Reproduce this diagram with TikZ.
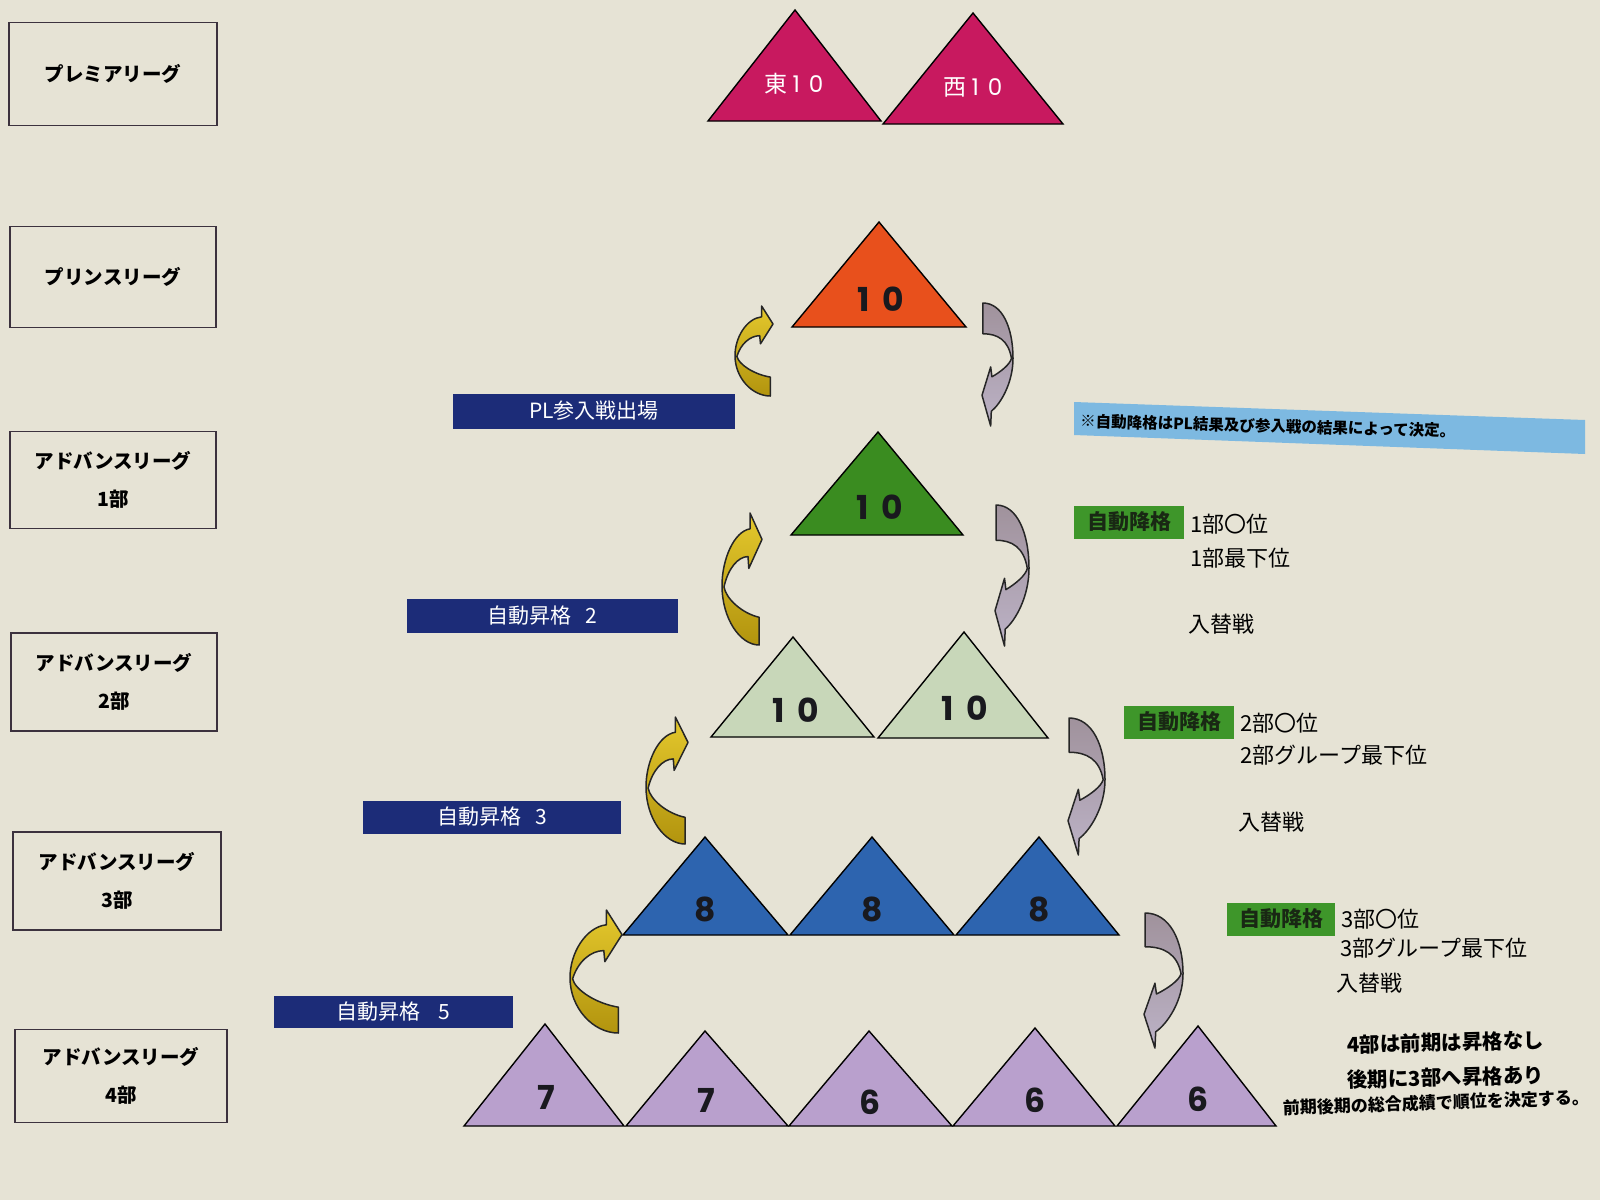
\documentclass[tikz,border=0pt]{standalone}
\usepackage{fontspec}
\setmainfont{Noto Sans CJK JP}
\newfontfamily\numfont{Poppins}
\definecolor{paper}{RGB}{230,227,213}
\definecolor{boxline}{RGB}{60,50,62}
\definecolor{navy}{RGB}{28,44,120}
\definecolor{dgreen}{RGB}{62,150,42}
\definecolor{skyblue}{RGB}{125,185,225}
\definecolor{plred}{RGB}{200,25,95}
\definecolor{prorange}{RGB}{232,80,28}
\definecolor{aone}{RGB}{58,140,32}
\definecolor{atwo}{RGB}{200,215,185}
\definecolor{athree}{RGB}{45,100,175}
\definecolor{afour}{RGB}{185,160,205}
\tikzset{
  lvlbox/.style={draw=boxline, line width=1.6pt, align=center, inner sep=0pt,
    font=\bfseries\fontsize{19.5}{38}\selectfont},
  barbox/.style={fill=navy, text=white, inner sep=0pt,
    font=\fontsize{21}{21}\selectfont},
  dropbox/.style={fill=dgreen, text={rgb,255:red,25;green,40;blue,20}, inner sep=0pt,
    minimum width=110pt, minimum height=33pt, font=\bfseries\fontsize{21}{21}\selectfont},
  rtext/.style={anchor=west, inner sep=0pt, font=\fontsize{22}{22}\selectfont},
  tri/.style={draw=black, line width=1.4pt, line join=miter},
  num/.style={inner sep=0pt, text={rgb,255:red,25;green,25;blue,30}, font=\numfont\bfseries\fontsize{33}{33}\selectfont},
  promo/.style={draw=black!85, line width=1.5pt, line join=round,
    top color={rgb,255:red,228;green,200;blue,45}, bottom color={rgb,255:red,178;green,148;blue,14}},
  demote/.style={draw=black!85, line width=1.5pt, line join=round,
    top color={rgb,255:red,160;green,146;blue,156}, bottom color={rgb,255:red,188;green,178;blue,198}}
}
% curved arrows: x, y (top left), width, height
\newcommand{\promoarrow}[4]{%
  \begin{scope}[shift={(#1,#2)}, xscale=#3, yscale=#4]
    \draw[promo] (0.93,1) -- (0.93,0.79) .. controls (0.5,0.76) and (0.1,0.65) .. (0.05,0.56)
      .. controls (0.15,0.42) and (0.4,0.33) .. (0.65,0.33) -- (0.67,0.42) -- (1,0.2) -- (0.7,0)
      -- (0.7,0.12) .. controls (0.3,0.14) and (0,0.35) .. (0,0.55)
      .. controls (0,0.8) and (0.45,1) .. (0.93,1) -- cycle;
  \end{scope}}
\newcommand{\demoarrow}[4]{%
  \begin{scope}[shift={(#1,#2)}, xscale=#3, yscale=#4]
    \draw[demote] (0.03,0) .. controls (0.65,0) and (1,0.2) .. (1,0.45)
      .. controls (1,0.65) and (0.6,0.82) .. (0.3,0.88) -- (0.28,1) -- (0,0.75) -- (0.28,0.52)
      -- (0.32,0.6) .. controls (0.6,0.56) and (0.9,0.5) .. (0.95,0.45)
      .. controls (0.85,0.3) and (0.5,0.25) .. (0.03,0.25) -- cycle;
  \end{scope}}
\begin{document}
\begin{tikzpicture}[x=1pt, y=-1pt]
  \useasboundingbox (0,0) rectangle (1600,1200);
  \fill[paper] (0,0) rectangle (1600,1200);

  % level boxes
  \node[lvlbox, minimum width=208pt, minimum height=103pt] (lpl) at (113,74) {プレミアリーグ};
  \node[lvlbox, minimum width=206pt, minimum height=101pt] (lpr) at (113,277) {プリンスリーグ};
  \node[lvlbox, minimum width=206pt, minimum height=97pt] (la1) at (113,480) {アドバンスリーグ\\1部};
  \node[lvlbox, minimum width=206pt, minimum height=98pt] (la2) at (114,682) {アドバンスリーグ\\2部};
  \node[lvlbox, minimum width=208pt, minimum height=98pt] (la3) at (117,881) {アドバンスリーグ\\3部};
  \node[lvlbox, minimum width=212pt, minimum height=93pt] (la4) at (121,1076) {アドバンスリーグ\\4部};

  % triangles: apex x/apex y/left/right/base y/colour
  \foreach \ax/\ay/\lx/\rx/\by/\col in {
      795/10/708/881/121/plred, 973/13/883/1063/124/plred,
      879/222/792/966/327/prorange,
      878/432/791/963/535/aone,
      793/637/711/874/737/atwo, 964/632/878/1048/738/atwo,
      705/837/623/788/935/athree, 872/837/790/954/935/athree, 1039/837/956/1119/935/athree,
      545/1024/464/624/1126/afour, 705/1031/626/788/1126/afour, 869/1031/789/952/1126/afour,
      1035/1028/953/1115/1126/afour, 1198/1026/1117/1276/1126/afour}
    \draw[tri, fill=\col] (\lx,\by) -- (\ax,\ay) -- (\rx,\by) -- cycle;

  % numbers
  \node[inner sep=0pt, text=white, font=\fontsize{23}{23}\selectfont] (npe) at (794,84)
    {東\hspace{5pt}{\numfont 1\hspace{9pt}0}};
  \node[inner sep=0pt, text=white, font=\fontsize{23}{23}\selectfont] (npw) at (973,87)
    {西\hspace{5pt}{\numfont 1\hspace{9pt}0}};
  \node[num] (npr) at (881,299) {1\hspace{13pt}0};
  \node[num] (na1) at (880,507) {1\hspace{13pt}0};
  \node[num] (na2l) at (796,710) {1\hspace{13pt}0};
  \node[num] (na2r) at (965,708) {1\hspace{13pt}0};
  \node[num] (na3a) at (705,909) {8};
  \node[num] (na3b) at (872,909) {8};
  \node[num] (na3c) at (1039,909) {8};
  \node[num] (na4a) at (546,1097) {7};
  \node[num] (na4b) at (706,1100) {7};
  \node[num] (na4c) at (870,1102) {6};
  \node[num] (na4d) at (1035,1100) {6};
  \node[num] (na4e) at (1198,1099) {6};

  % promotion bars
  \node[barbox, minimum width=282pt, minimum height=35pt] (bpl) at (594,411) {PL参入戦出場};
  \node[barbox, minimum width=271pt, minimum height=34pt] (bup2) at (542,616) {自動昇格\hspace{14pt}2};
  \node[barbox, minimum width=258pt, minimum height=33pt] (bup3) at (492,817) {自動昇格\hspace{14pt}3};
  \node[barbox, minimum width=239pt, minimum height=32pt] (bup5) at (393,1012) {自動昇格\hspace{18pt}5};

  % curved arrows
  \promoarrow{735}{306}{38}{90}
  \promoarrow{722}{513}{40}{132}
  \promoarrow{646}{717}{42}{127}
  \promoarrow{570}{910}{52}{123}
  \demoarrow{982}{303}{31}{123}
  \demoarrow{995}{505}{34}{141}
  \demoarrow{1068}{718}{37}{137}
  \demoarrow{1144}{913}{39}{135}

  % note
  \fill[skyblue] (1074,402) -- (1585,420) -- (1585,454) -- (1074,435) -- cycle;
  \node[anchor=west, inner sep=0pt, rotate=-1.5, font=\bfseries\fontsize{15.5}{15.5}\selectfont] (note) at (1080,421)
    {※自動降格はPL結果及び参入戦の結果によって決定。};

  % relegation
  \node[dropbox] (d1) at (1129,522) {自動降格};
  \node[rtext] (t11) at (1190,524) {1部〇位};
  \node[rtext] (t12) at (1190,558) {1部最下位};
  \node[rtext] (t13) at (1188,624) {入替戦};
  \node[dropbox] (d2) at (1179,722) {自動降格};
  \node[rtext] (t21) at (1240,723) {2部〇位};
  \node[rtext] (t22) at (1240,755) {2部グループ最下位};
  \node[rtext] (t23) at (1238,822) {入替戦};
  \node[dropbox, minimum width=108pt] (d3) at (1281,919) {自動降格};
  \node[rtext] (t31) at (1341,919) {3部〇位};
  \node[rtext] (t32) at (1340,948) {3部グループ最下位};
  \node[rtext] (t33) at (1336,983) {入替戦};

  % 4th division
  \node[rtext, rotate=1.5, font=\bfseries\fontsize{20.5}{20.5}\selectfont] (b1) at (1347,1045) {4部は前期は昇格なし};
  \node[rtext, rotate=1.5, font=\bfseries\fontsize{20.5}{20.5}\selectfont] (b2) at (1347,1080) {後期に3部へ昇格あり};
  \node[rtext, rotate=2, font=\bfseries\fontsize{17}{17}\selectfont] (b3) at (1283,1108) {前期後期の総合成績で順位を決定する。};
\end{tikzpicture}
\end{document}
